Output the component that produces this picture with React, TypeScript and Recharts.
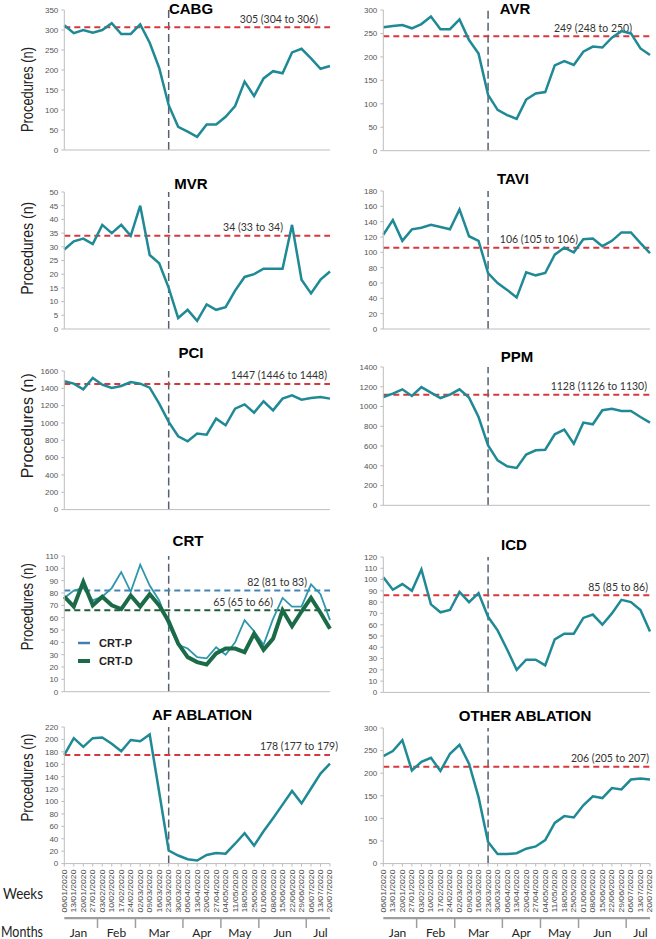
import React from 'react';
import { LineChart, Line, XAxis, YAxis, ReferenceLine, Legend } from 'recharts';

// week commencing dates, 2020
const weeks = [
  '06/01/2020', '13/01/2020', '20/01/2020', '27/01/2020', '03/02/2020', '10/02/2020', '17/02/2020',
  '24/02/2020', '02/03/2020', '09/03/2020', '16/03/2020', '23/03/2020', '30/03/2020', '06/04/2020',
  '13/04/2020', '20/04/2020', '27/04/2020', '04/05/2020', '11/05/2020', '18/05/2020', '25/05/2020',
  '01/06/2020', '08/06/2020', '15/06/2020', '22/06/2020', '29/06/2020', '06/07/2020', '13/07/2020',
  '20/07/2020',
];
const months = ['Jan', 'Feb', 'Mar', 'Apr', 'May', 'Jun', 'Jul'];
const weeksPerMonth = [4, 4, 5, 4, 4, 5, 3];
const lockdownWeek = '23/03/2020';

const cabg = [312, 292, 300, 293, 300, 317, 290, 290, 314, 268, 205, 112, 58, 46, 33, 64, 64, 83, 110, 171, 135, 179, 197, 192, 244, 253, 229, 203, 210];
const avr = [263, 266, 268, 261, 270, 286, 259, 259, 280, 236, 207, 119, 87, 76, 68, 109, 122, 125, 182, 191, 183, 211, 222, 220, 241, 255, 250, 218, 204];
const mvr = [29, 32, 33, 31, 38, 35, 38, 34, 45, 27, 24, 15, 4, 7, 3, 9, 7, 8, 14, 19, 20, 22, 22, 22, 38, 18, 13, 18, 21];
const tavi = [123, 142, 115, 130, 132, 136, 133, 130, 156, 121, 115, 73, 60, 51, 41, 74, 70, 73, 97, 106, 100, 117, 118, 108, 115, 126, 126, 112, 99];
const pci = [1481, 1454, 1388, 1519, 1442, 1404, 1427, 1473, 1454, 1408, 1223, 1012, 846, 788, 877, 865, 1050, 973, 1165, 1215, 1119, 1250, 1146, 1281, 1319, 1269, 1288, 1300, 1281];
const ppm = [1096, 1130, 1174, 1107, 1197, 1140, 1086, 1120, 1174, 1090, 894, 607, 455, 395, 378, 513, 557, 563, 719, 766, 624, 837, 820, 962, 978, 955, 955, 894, 837];
const crtP = [76, 82, 84, 74, 77, 84, 97, 81, 103, 86, 74, 54, 38, 35, 28, 27, 36, 30, 40, 58, 49, 38, 59, 76, 69, 69, 87, 79, 58];
const crtD = [77, 69, 89, 70, 77, 70, 67, 78, 69, 79, 70, 57, 39, 28, 24, 22, 31, 35, 35, 32, 47, 34, 43, 66, 53, 65, 76, 64, 51];
const icd = [102, 91, 96, 90, 109, 78, 71, 73, 89, 80, 88, 67, 55, 38, 20, 29, 29, 24, 47, 52, 52, 66, 69, 60, 70, 82, 80, 73, 54];
const afAblation = [175, 202, 188, 202, 203, 193, 181, 199, 197, 208, 115, 21, 13, 7, 5, 14, 17, 16, 32, 49, 29, 52, 73, 95, 117, 97, 121, 145, 161];
const otherAblation = [238, 249, 273, 206, 225, 234, 205, 243, 263, 221, 147, 48, 21, 21, 23, 33, 38, 52, 90, 105, 102, 129, 149, 145, 167, 164, 186, 188, 186];

// pre-pandemic weekly means (line position, label)
const means = { cabg: 307, avr: 244, mvr: 34, tavi: 106, pci: 1450, ppm: 1120, crtP: 82, crtD: 66, icd: 86, afAblation: 175, otherAblation: 214 };
const meanLabels = {
  cabg: '305 (304 to 306)', avr: '249 (248 to 250)', mvr: '34 (33 to 34)', tavi: '106 (105 to 106)',
  pci: '1447 (1446 to 1448)', ppm: '1128 (1126 to 1130)', crtP: '82 (81 to 83)', crtD: '65 (65 to 66)',
  icd: '85 (85 to 86)', afAblation: '178 (177 to 179)', otherAblation: '206 (205 to 207)',
};

const cabgTicks = [0, 50, 100, 150, 200, 250, 300, 350];
const avrTicks = [0, 50, 100, 150, 200, 250, 300];
const mvrTicks = [0, 5, 10, 15, 20, 25, 30, 35, 40, 45, 50];
const taviTicks = [0, 20, 40, 60, 80, 100, 120, 140, 160, 180];
const pciTicks = [0, 200, 400, 600, 800, 1000, 1200, 1400, 1600];
const ppmTicks = [0, 200, 400, 600, 800, 1000, 1200, 1400];
const crtTicks = [0, 10, 20, 30, 40, 50, 60, 70, 80, 90, 100, 110];
const icdTicks = [0, 10, 20, 30, 40, 50, 60, 70, 80, 90, 100, 110, 120];
const afTicks = [0, 20, 40, 60, 80, 100, 120, 140, 160, 180, 200, 220];
const otherTicks = [0, 50, 100, 150, 200, 250, 300];

const rows = weeks.map((week, i) => ({
  i, week,
  cabg: cabg[i], avr: avr[i], mvr: mvr[i], tavi: tavi[i], pci: pci[i], ppm: ppm[i],
  crtP: crtP[i], crtD: crtD[i], icd: icd[i], afAblation: afAblation[i], otherAblation: otherAblation[i],
}));

const weekTicks = weeks.map((_, i) => i);
const lockdownIndex = weeks.indexOf(lockdownWeek);
const monthStarts = weeksPerMonth.map((_, m) => weeksPerMonth.slice(0, m).reduce((a, b) => a + b, 0));
const monthMids = monthStarts.map((s, m) => s + (weeksPerMonth[m] - 1) / 2);
const monthBounds = monthStarts.slice(1).map((s) => s - 0.5);
const monthTicks = [...monthMids, ...monthBounds].sort((a, b) => a - b);

const FONT = '"Liberation Sans", Arial, sans-serif';
const LABEL_FONT = 'Lato, "Open Sans", sans-serif';
const TEAL = '#1f8a95';
const RED = '#d7383d';
const AXIS = '#bdbdbd';

type Series = { key: string; color: string; width: number; meanColor: string; legendColor?: string; labelRight: number; name?: string };
type Panel = {
  title: string; col: 0 | 1; plotTop: number; plotBottom: number; titleX: number; titleY: number;
  yTicks: number[]; series: Series[]; bottom?: boolean; legend?: boolean;
};

const one = (key: string, labelRight: number): Series[] => [{ key, color: TEAL, width: 2.5, meanColor: RED, labelRight }];

const crtSeries: Series[] = [
  { key: 'crtP', name: 'CRT-P', color: '#2f97ad', width: 1.8, meanColor: '#4583b3', legendColor: '#3f7fb3', labelRight: 23 },
  { key: 'crtD', name: 'CRT-D', color: '#1c6b48', width: 4, meanColor: '#1f5c3b', legendColor: '#1c6b48', labelRight: 57 },
];

const panels: Panel[] = [
  { title: 'CABG', col: 0, plotTop: 10, plotBottom: 150, titleX: 191, titleY: 8, yTicks: cabgTicks, series: one('cabg', 12) },
  { title: 'AVR', col: 1, plotTop: 10, plotBottom: 150.7, titleX: 515, titleY: 8, yTicks: avrTicks, series: one('avr', 18) },
  { title: 'MVR', col: 0, plotTop: 192.3, plotBottom: 329.3, titleX: 191, titleY: 183, yTicks: mvrTicks, series: one('mvr', 47) },
  { title: 'TAVI', col: 1, plotTop: 191, plotBottom: 329, titleX: 513, titleY: 178, yTicks: taviTicks, series: one('tavi', 72) },
  { title: 'PCI', col: 0, plotTop: 370.7, plotBottom: 509.3, titleX: 191, titleY: 352, yTicks: pciTicks, series: one('pci', 3) },
  { title: 'PPM', col: 1, plotTop: 366.7, plotBottom: 505, titleX: 517, titleY: 356, yTicks: ppmTicks, series: one('ppm', 3) },
  { title: 'CRT', col: 0, plotTop: 556, plotBottom: 691.7, titleX: 188, titleY: 540, yTicks: crtTicks, legend: true, series: crtSeries },
  { title: 'ICD', col: 1, plotTop: 557.3, plotBottom: 692.7, titleX: 514, titleY: 544, yTicks: icdTicks, series: one('icd', 2) },
  { title: 'AF ABLATION', col: 0, plotTop: 726.7, plotBottom: 863.3, titleX: 202, titleY: 714, yTicks: afTicks, bottom: true, series: one('afAblation', -8) },
  { title: 'OTHER ABLATION', col: 1, plotTop: 727.7, plotBottom: 863.3, titleX: 525, titleY: 715, yTicks: otherTicks, bottom: true, series: one('otherAblation', 1) },
];

// "Procedures (n)" label per row: centre y, drawn length
const yLabelRows = [
  { y: 89.5, len: 85 }, { y: 248.3, len: 93 }, { y: 425.8, len: 105 }, { y: 606.7, len: 87 }, { y: 777.5, len: 88 },
];

const colGeom = (col: 0 | 1) =>
  col === 0
    ? { left: 0, width: 340, right: 10, yWidth: 64.3 }
    : { left: 330, width: 326, right: 6, yWidth: 53.3 };

const MeanLabel = ({ viewBox, text, right }: any) => (
  <text
    x={viewBox.x + viewBox.width - right}
    y={viewBox.y - 4.5}
    textAnchor="end"
    fontSize={10.5}
    fontFamily={LABEL_FONT}
    fill="#333"
  >
    {text}
  </text>
);

const WeekTick = ({ x, y, payload }: any) => (
  <text
    x={0}
    y={0}
    transform={`translate(${x},${y}) rotate(-90)`}
    textAnchor="end"
    dominantBaseline="central"
    fontSize={8}
    fontFamily={FONT}
    fill="#4a4a4a"
    textLength={43}
    lengthAdjust="spacingAndGlyphs"
  >
    {weeks[payload.value]}
  </text>
);

const MonthTick = ({ x, y, payload }: any) => {
  if (monthBounds.includes(payload.value)) {
    return <line x1={x} x2={x} y1={y} y2={y + 10} stroke="#9e9e9e" strokeWidth={1.5} />;
  }
  const m = monthMids.indexOf(payload.value);
  return (
    <text x={x} y={y + 14} textAnchor="middle" dominantBaseline="central" fontSize={12} fontFamily={LABEL_FONT} fill="#222">
      {months[m]}
    </text>
  );
};

const CrtLegend = () => (
  <div>
    {crtSeries.map((s) => (
      <div key={s.key} style={{ display: 'flex', alignItems: 'center', height: 18 }}>
        <svg width={24} height={10}>
          <line x1={3} x2={15} y1={5} y2={5} stroke={s.legendColor} strokeWidth={s.key === 'crtD' ? 4 : 2.5} />
        </svg>
        <span style={{ fontFamily: FONT, fontWeight: 'bold', fontSize: 11, color: '#222' }}>{s.name}</span>
      </div>
    ))}
  </div>
);

const PanelChart = ({ p }: { p: Panel }) => {
  const g = colGeom(p.col);
  const xHeight = p.bottom ? 55 : 6;
  const top = p.plotTop - 10;
  const height = p.plotBottom - top + xHeight;
  return (
    <div style={{ position: 'absolute', left: g.left, top }}>
      <LineChart width={g.width} height={height} data={rows} margin={{ top: 10, right: g.right, bottom: 0, left: 0 }}>
        <XAxis
          dataKey="i"
          type="number"
          domain={[0, weeks.length - 1]}
          ticks={weekTicks}
          interval={0}
          height={xHeight}
          axisLine={{ stroke: AXIS }}
          tickLine={{ stroke: AXIS }}
          tickSize={3}
          tickMargin={3}
          tick={p.bottom ? <WeekTick /> : false}
        />
        <YAxis
          type="number"
          domain={[0, p.yTicks[p.yTicks.length - 1]]}
          ticks={p.yTicks}
          interval={0}
          width={g.yWidth}
          axisLine={{ stroke: AXIS }}
          tickLine={{ stroke: AXIS }}
          tickSize={3}
          tickMargin={3}
          tick={{ fontSize: 8, fill: '#555', fontFamily: FONT }}
        />
        <ReferenceLine x={lockdownIndex} stroke="#56606e" strokeDasharray="8 4" strokeWidth={1.5} />
        {p.series.map((s) => (
          <ReferenceLine
            key={`m-${s.key}`}
            y={(means as any)[s.key]}
            stroke={s.meanColor}
            strokeDasharray="6 4"
            strokeWidth={2}
            label={<MeanLabel text={(meanLabels as any)[s.key]} right={s.labelRight} />}
          />
        ))}
        {p.series.map((s) => (
          <Line
            key={s.key}
            dataKey={s.key}
            name={s.name || p.title}
            type="linear"
            stroke={s.color}
            strokeWidth={s.width}
            dot={false}
            isAnimationActive={false}
          />
        ))}
        {p.legend && (
          <Legend
            layout="vertical"
            align="center"
            verticalAlign="middle"
            wrapperStyle={{ left: 75, top: 88, width: 90 }}
            content={<CrtLegend />}
          />
        )}
      </LineChart>
    </div>
  );
};

// month band under the week labels of the bottom row
const MonthAxisChart = ({ col }: { col: 0 | 1 }) => {
  const g = colGeom(col);
  return (
    <div style={{ position: 'absolute', left: g.left, top: 917.3 }}>
      <LineChart width={g.width} height={22} data={rows} margin={{ top: 1, right: g.right, bottom: 0, left: g.yWidth }}>
        <XAxis
          dataKey="i"
          type="number"
          domain={[0, weeks.length - 1]}
          ticks={monthTicks}
          interval={0}
          height={21}
          axisLine={{ stroke: '#9e9e9e', strokeWidth: 2.5 }}
          tickLine={false}
          tickSize={0}
          tickMargin={0}
          tick={<MonthTick />}
        />
      </LineChart>
    </div>
  );
};

export default function App() {
  return (
    <div style={{ position: 'absolute', left: 0, top: 0, width: 656, height: 939, background: '#fff', overflow: 'hidden' }}>
      {panels.map((p) => (
        <PanelChart key={p.title} p={p} />
      ))}
      <MonthAxisChart col={0} />
      <MonthAxisChart col={1} />
      <svg width={656} height={939} style={{ position: 'absolute', left: 0, top: 0, pointerEvents: 'none' }}>
        {panels.map((p) => (
          <text
            key={`t-${p.title}`}
            x={p.titleX}
            y={p.titleY}
            textAnchor="middle"
            dominantBaseline="central"
            fontFamily={FONT}
            fontWeight="bold"
            fontSize={15}
            fill="#000"
          >
            {p.title}
          </text>
        ))}
        {yLabelRows.map((r, k) => (
          <text
            key={`y-${k}`}
            transform={`translate(27,${r.y}) rotate(-90)`}
            textAnchor="middle"
            dominantBaseline="central"
            fontFamily={FONT}
            fontSize={16}
            fill="#222"
            textLength={r.len}
            lengthAdjust="spacingAndGlyphs"
          >
            Procedures (n)
          </text>
        ))}
        <text x={23} y={893} textAnchor="middle" dominantBaseline="central" fontFamily={LABEL_FONT} fontSize={15} fill="#222" textLength={40} lengthAdjust="spacingAndGlyphs">
          Weeks
        </text>
        <text x={22} y={931} textAnchor="middle" dominantBaseline="central" fontFamily={LABEL_FONT} fontSize={15} fill="#222" textLength={42} lengthAdjust="spacingAndGlyphs">
          Months
        </text>
      </svg>
    </div>
  );
}
